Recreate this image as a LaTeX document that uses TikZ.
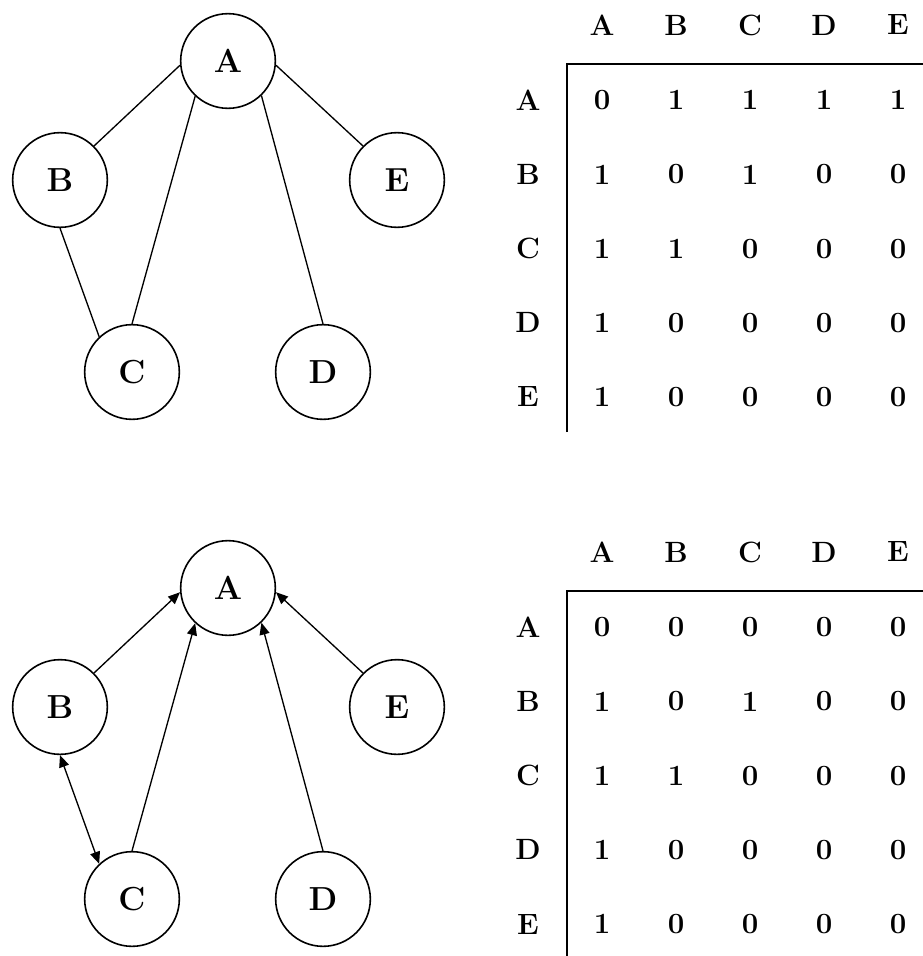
\documentclass[tikz,border=0pt]{standalone}
\usepackage{fontspec}
\usetikzlibrary{arrows.meta}

\tikzset{
	>={Triangle[length=9pt,width=7.5pt]},
	vertex/.style={circle,draw,line width=1.2pt,minimum size=71pt,inner sep=0pt,font=\fontsize{25}{30}\selectfont\bfseries},
	edge/.style={line width=1pt},
	entry/.style={font=\fontsize{22}{26}\selectfont\bfseries},
	rule/.style={line width=1.4pt}
}

\begin{document}
\begin{tikzpicture}[x=0.75pt,y=-0.75pt]
		\useasboundingbox (0,0) rectangle (923,956);
		
		% Undirected graph
		\node[vertex] (tA) at (228,61) {A};
		\node[vertex] (tB) at (60,180) {B};
		\node[vertex] (tE) at (397,180) {E};
		\node[vertex] (tC) at (132,372) {C};
		\node[vertex] (tD) at (323,372) {D};
		\draw[edge] (tB.45) -- (tA.185);
		\draw[edge] (tC.90) -- (tA.227);
		\draw[edge] (tD.90) -- (tA.314);
		\draw[edge] (tE.135) -- (tA.355);
		\draw[edge] (tB.270) -- (tC.133);
		
		% Undirected matrix
		\foreach \lab [count=\i] in {A,B,C,D,E} {
			\node[entry] (th\i) at ({528+74*\i},25) {\lab};
		}
		\foreach \r/\lab/\a/\b/\c/\d/\e in {1/A/0/1/1/1/1, 2/B/1/0/1/0/0, 3/C/1/1/0/0/0, 4/D/1/0/0/0/0, 5/E/1/0/0/0/0} {
			\node[entry] (tr\r) at (528,{26+74.2*\r}) {\lab};
			\foreach \v [count=\j] in {\a,\b,\c,\d,\e}
				\node[entry] (t\r\j) at ({528+74*\j},{26+74.2*\r}) {\v};
		}
		\draw[rule] (567,432) -- (567,64) -- (923,64);
		
		% Directed graph
		\node[vertex] (bA) at (228,588) {A};
		\node[vertex] (bB) at (60,707) {B};
		\node[vertex] (bE) at (397,707) {E};
		\node[vertex] (bC) at (132,899) {C};
		\node[vertex] (bD) at (323,899) {D};
		\draw[edge,->] (bB.45) -- (bA.185);
		\draw[edge,->] (bC.90) -- (bA.227);
		\draw[edge,->] (bD.90) -- (bA.314);
		\draw[edge,->] (bE.135) -- (bA.355);
		\draw[edge,<->] (bB.270) -- (bC.133);
		
		% Directed matrix
		\foreach \lab [count=\i] in {A,B,C,D,E} {
			\node[entry] (bh\i) at ({528+74*\i},552) {\lab};
		}
		\foreach \r/\lab/\a/\b/\c/\d/\e in {1/A/0/0/0/0/0, 2/B/1/0/1/0/0, 3/C/1/1/0/0/0, 4/D/1/0/0/0/0, 5/E/1/0/0/0/0} {
			\node[entry] (br\r) at (528,{553+74.2*\r}) {\lab};
			\foreach \v [count=\j] in {\a,\b,\c,\d,\e}
				\node[entry] (b\r\j) at ({528+74*\j},{553+74.2*\r}) {\v};
		}
		\draw[rule] (567,956) -- (567,591) -- (923,591);
	\end{tikzpicture}
\end{document}
